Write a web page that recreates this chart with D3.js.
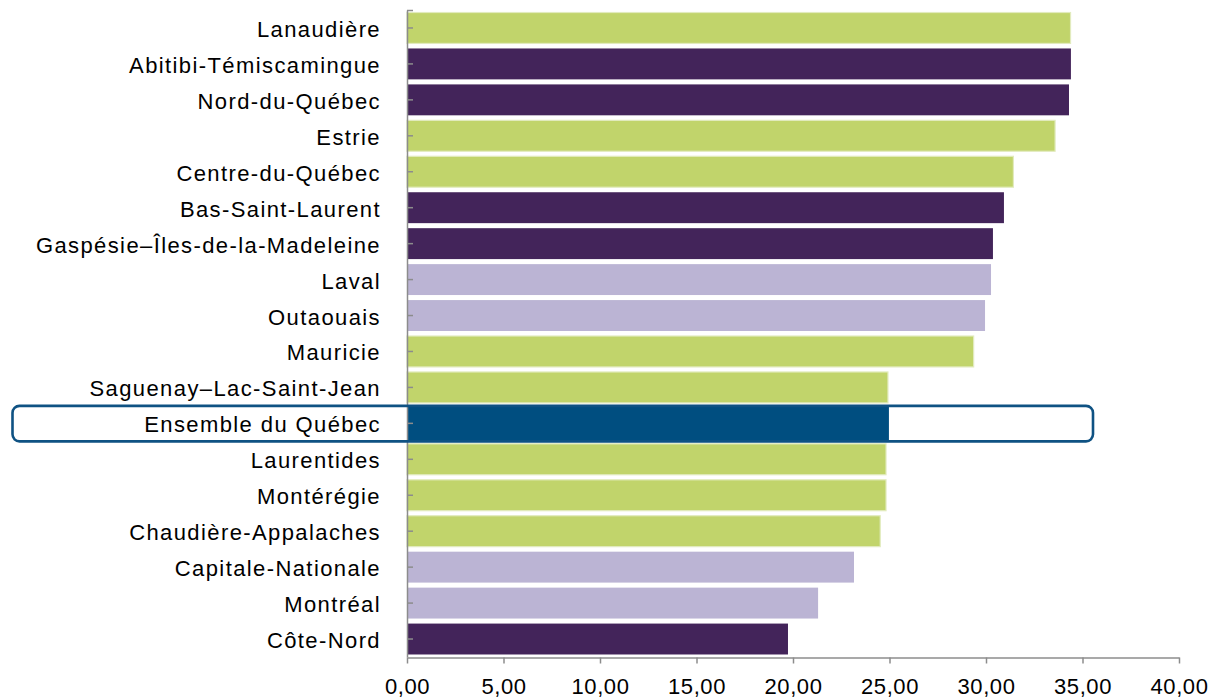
<!DOCTYPE html>
<html>
<head>
<meta charset="utf-8">
<script src="https://cdn.jsdelivr.net/npm/d3@7"></script>
<style>
  html, body { margin: 0; padding: 0; background: #fff; }
  svg { display: block; }
  text { font-family: "Liberation Sans", Arial, sans-serif; fill: #000; }
</style>
</head>
<body>
<svg id="chart" width="1210" height="700"></svg>
<script>
const categories = [
  "Lanaudière", "Abitibi-Témiscamingue", "Nord-du-Québec", "Estrie",
  "Centre-du-Québec", "Bas-Saint-Laurent", "Gaspésie–Îles-de-la-Madeleine",
  "Laval", "Outaouais", "Mauricie", "Saguenay–Lac-Saint-Jean",
  "Ensemble du Québec", "Laurentides", "Montérégie", "Chaudière-Appalaches",
  "Capitale-Nationale", "Montréal", "Côte-Nord"
];
const values = [
  34.38, 34.40, 34.30, 33.58, 31.42, 30.93, 30.36, 30.26, 29.95, 29.36,
  24.92, 24.97, 24.82, 24.82, 24.52, 23.16, 21.30, 19.74
];
const groups = [
  "green", "dark", "dark", "green", "green", "dark", "dark", "light", "light",
  "green", "green", "total", "green", "green", "green", "light", "light", "dark"
];
const xTicks = [0, 5, 10, 15, 20, 25, 30, 35, 40];
const highlighted = "Ensemble du Québec";

const colors = { green: "#C1D46B", dark: "#43245A", light: "#BBB4D4", total: "#004E80" };

const svg = d3.select("#chart");
const mLeft = 407, mRight = 1179, mTop = 10, mBottom = 657;

const x = d3.scaleLinear().domain([0, 40]).range([mLeft, mRight]);
const y = d3.scaleBand().domain(categories).range([mTop, mBottom]).paddingInner(0.14).paddingOuter(0.07);

const data = categories.map((c, i) => ({ c, v: values[i], g: groups[i] }));

// bars
svg.append("g").selectAll("rect").data(data).join("rect")
  .attr("x", x(0))
  .attr("y", d => d.g === "total" ? y(d.c) + y.bandwidth() / 2 - 17 : y(d.c))
  .attr("width", d => x(d.v) - x(0))
  .attr("height", d => d.g === "total" ? 34 : y.bandwidth())
  .attr("fill", d => colors[d.g])
  .attr("stroke", d => d.g === "green" ? "#E2EBBE" : "none")
  .attr("stroke-width", 1.2);

// bottom axis
const xAxis = d3.axisBottom(x).tickValues(xTicks).tickSize(6).tickSizeOuter(0)
  .tickFormat(d => d3.format(".2f")(d).replace(".", ","));
const gx = svg.append("g").attr("transform", `translate(0,${mBottom + 0.5})`).call(xAxis);
gx.select(".domain").attr("stroke", "#8c8c8c").attr("stroke-width", 1.5);
gx.selectAll(".tick line").attr("stroke", "#8c8c8c").attr("stroke-width", 1.5);
gx.selectAll(".tick text").attr("font-size", 22).attr("dy", 0).attr("y", 36)
  .attr("letter-spacing", 0.6)
  .attr("font-family", "'Liberation Sans', Arial, sans-serif").attr("fill", "#000");

// left axis
const yAxis = d3.axisRight(y).tickSize(6).tickSizeOuter(0).tickFormat("");
const gy = svg.append("g").attr("transform", `translate(${mLeft},0)`).call(yAxis);
gy.select(".domain").attr("stroke", "#8c8c8c").attr("stroke-width", 1.5);
gy.selectAll(".tick line").attr("stroke", "#8c8c8c").attr("stroke-width", 1.5);
gy.append("line").attr("x1", 0).attr("x2", 6).attr("y1", mTop + 0.5).attr("y2", mTop + 0.5)
  .attr("stroke", "#8c8c8c").attr("stroke-width", 1.5);

// category labels
svg.append("g").selectAll("text").data(data).join("text")
  .attr("x", 381)
  .attr("y", d => y(d.c) + y.bandwidth() / 2 + 9)
  .attr("text-anchor", "end")
  .attr("font-size", 22)
  .attr("letter-spacing", 1.4)
  .text(d => d.c);

// highlight box
const hb = y(highlighted) + y.bandwidth() / 2;
svg.append("rect")
  .attr("x", 12.5).attr("y", hb - 17.5)
  .attr("width", 1093 - 12.5).attr("height", 35.5)
  .attr("rx", 7).attr("ry", 7)
  .attr("fill", "none")
  .attr("stroke", "#0F5283")
  .attr("stroke-width", 2.6);
</script>
</body>
</html>
